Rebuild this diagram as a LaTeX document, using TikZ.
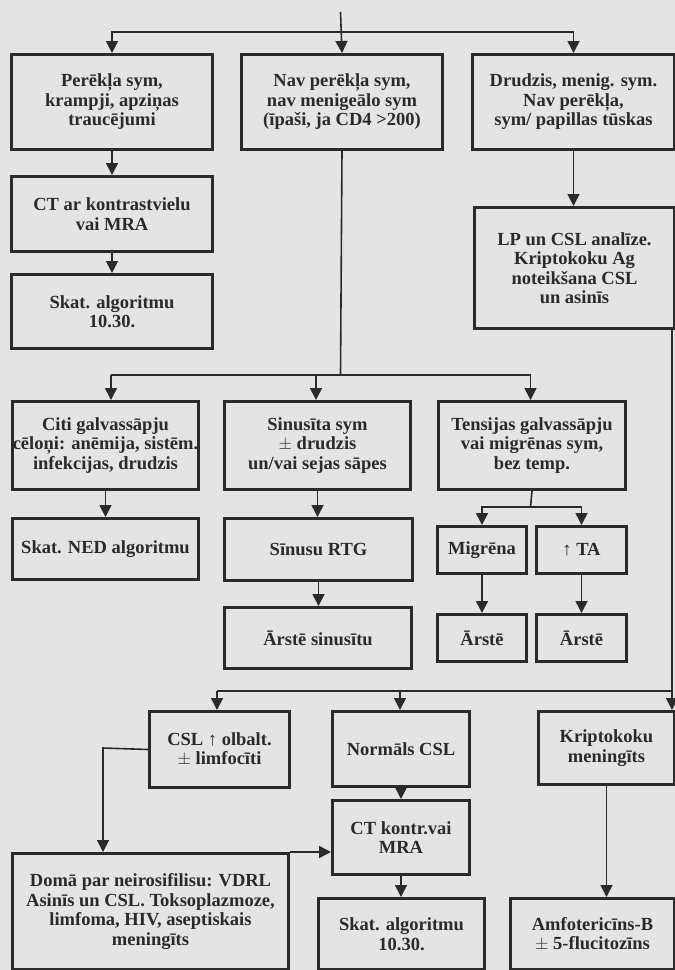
\documentclass[tikz,border=0pt]{standalone}
\usepackage{fontspec}
\setmainfont{Liberation Serif}
\usetikzlibrary{arrows.meta}
\definecolor{ink}{RGB}{42,42,42}
\definecolor{paper}{RGB}{228,228,228}
\begin{document}
\begin{tikzpicture}[x=1pt,y=-1pt,
  box/.style={draw=ink, line width=3pt, text=ink, align=center, inner sep=0pt,
    anchor=north west, font=\fontsize{18.5}{19.5}\selectfont\bfseries},
  line/.style={draw=ink, line width=1.6pt},
  conn/.style={line, -{Triangle[length=12pt,width=12pt]}}]
\useasboundingbox (0,0) rectangle (675,970);
\fill[paper] (0,0) rectangle (675,970);

% row 1
\node[box, minimum width=201pt, minimum height=95pt] (b1) at (10,53) {Perēkļa sym,\\krampji, apziņas\\traucējumi};
\node[box, minimum width=201pt, minimum height=95pt] (b2) at (240,53) {Nav perēkļa sym,\\nav menigeālo sym\\(īpaši, ja CD4 >200)};
\node[box, minimum width=202pt, minimum height=95pt] (b3) at (471,53) {Drudzis, menig. sym.\\Nav perēkļa,\\sym/ papillas tūskas};
\node[box, minimum width=201pt, minimum height=75pt] (ct) at (10,175) {CT ar kontrastvielu\\vai MRA};
\node[box, minimum width=201pt, minimum height=74pt] (sk1) at (10,273) {Skat. algoritmu\\10.30.};
\node[box, minimum width=200pt, minimum height=121pt] (lp) at (473,206) {LP un CSL analīze.\\Kriptokoku Ag\\noteikšana CSL\\un asinīs};

% row 2
\node[box, minimum width=186pt, minimum height=88pt] (citi) at (11,400) {Citi galvassāpju\\cēloņi: anēmija, sistēm.\\infekcijas, drudzis};
\node[box, minimum width=186pt, minimum height=88pt] (sinus) at (223,400) {Sinusīta sym\\$\pm$ drudzis\\un/vai sejas sāpes};
\node[box, minimum width=187pt, minimum height=88pt] (tens) at (437,400) {Tensijas galvassāpju\\vai migrēnas sym,\\bez temp.};
\node[box, minimum width=186pt, minimum height=61pt] (skned) at (11,517) {Skat. NED algoritmu};
\node[box, minimum width=188pt, minimum height=62pt] (rtg) at (223,517) {Sīnusu RTG};
\node[box, minimum width=187pt, minimum height=61pt] (arsin) at (223,606) {Ārstē sinusītu};
\node[box, minimum width=89pt, minimum height=47pt] (mig) at (436,525) {Migrēna};
\node[box, minimum width=90pt, minimum height=47pt] (ta) at (535,525) {↑ TA};
\node[box, minimum width=89pt, minimum height=47pt] (ar1) at (436,613) {Ārstē};
\node[box, minimum width=90pt, minimum height=47pt] (ar2) at (535,613) {Ārstē};

% row 3
\node[box, minimum width=140pt, minimum height=76pt] (csl) at (148,710) {CSL ↑ olbalt.\\$\pm$ limfocīti};
\node[box, minimum width=137pt, minimum height=75pt] (norm) at (331,710) {Normāls CSL};
\node[box, minimum width=136pt, minimum height=73pt] (krip) at (537,710) {Kriptokoku\\meningīts};
\node[box, minimum width=137pt, minimum height=74pt] (ctk) at (331,799) {CT kontr.vai\\MRA};
\node[box, minimum width=276pt, minimum height=116pt] (dom) at (11,852) {Domā par neirosifilisu: VDRL\\Asinīs un CSL. Toksoplazmoze,\\limfoma, HIV, aseptiskais\\meningīts};
\node[box, minimum width=166pt, minimum height=71pt] (sk2) at (317,897) {Skat. algoritmu\\10.30.};
\node[box, minimum width=164pt, minimum height=71pt] (amfo) at (509,897) {Amfotericīns-B\\$\pm$ 5-flucitozīns};

% connectors row 1
\coordinate (top) at (340.5,12);
\coordinate (j1) at (340.5,32);
\draw[conn] (top) -- (b2.north);
\draw[conn] (j1) -| (b1.north);
\draw[conn] (j1) -| (b3.north);
\draw[conn] (b1) -- (ct);
\draw[conn] (ct) -- (sk1);
\draw[conn] (b3.south) -- (b3.south |- lp.north);

% connectors row 2
\coordinate (j2) at (340.5,375);
\coordinate (a2l) at (111,375);
\coordinate (a2m) at (316,375);
\coordinate (a2r) at (530.5,375);
\draw[line] (b2.south) -- (j2);
\draw[line] (a2l) -- (a2r);
\draw[conn] (a2l) -- (a2l |- citi.north);
\draw[conn] (a2m) -- (a2m |- sinus.north);
\draw[conn] (a2r) -- (a2r |- tens.north);
\draw[conn] (citi) -- (skned);
\draw[conn] (sinus.south) -- (sinus.south |- rtg.north);
\draw[conn] (rtg.south) -- (rtg.south |- arsin.north);
\coordinate (j3) at (530.5,507);
\draw[line] (tens.south) -- (j3);
\draw[conn] (j3) -| (mig.north);
\draw[conn] (j3) -| (ta.north);
\draw[conn] (mig) -- (ar1);
\draw[conn] (ta) -- (ar2);

% connectors row 3
\coordinate (j4) at (672,691);
\coordinate (a4l) at (217,691);
\coordinate (a4m) at (400,691);
\draw[conn] (j4 |- lp.south) -- (j4 |- krip.north);
\draw[line] (a4l) -- (j4);
\draw[conn] (a4l) -- (a4l |- csl.north);
\draw[conn] (a4m) -- (a4m |- norm.north);
\draw[conn] (norm.south) -- (norm.south |- ctk.north);
\draw[conn] (ctk.south) -- (ctk.south |- sk2.north);
\draw[conn] (krip.south) -- (krip.south |- amfo.north);
\coordinate (j5) at (103,748);
\draw[conn] (csl.west) -- (j5) -- (j5 |- dom.north);
\draw[conn] (dom.north east) -- (dom.north east -| ctk.west);
\end{tikzpicture}
\end{document}
